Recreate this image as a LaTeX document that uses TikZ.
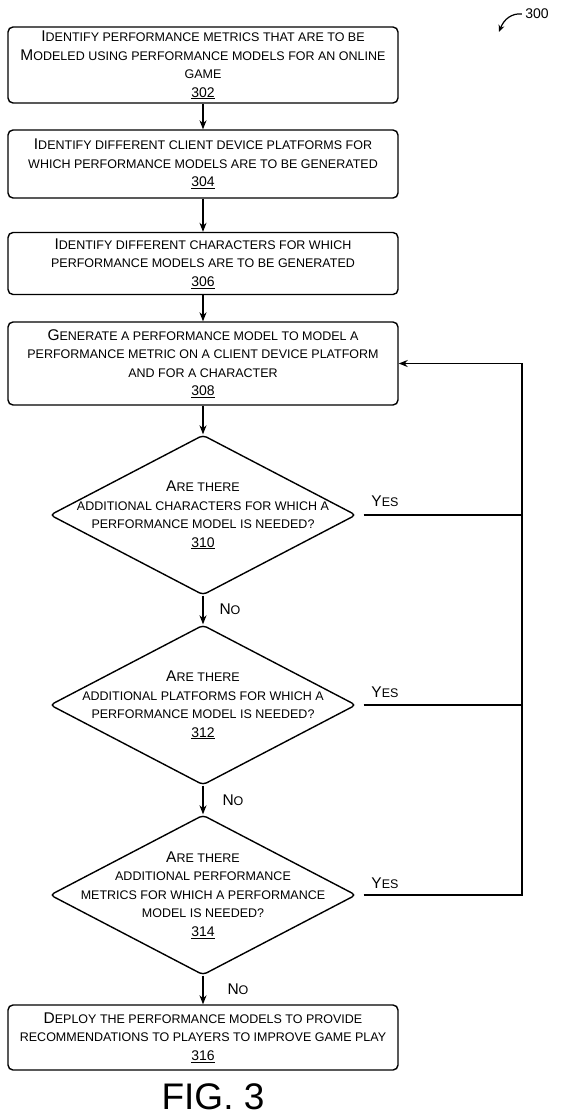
\documentclass[tikz,border=0pt]{standalone}
\usepackage{fontspec}
\setmainfont{Liberation Sans}
\usetikzlibrary{positioning,shapes.geometric,arrows.meta}

\newcommand{\pc}[1]{{\fontsize{12.5}{18.5}\selectfont #1}}
\newcommand{\num}[1]{{\fontsize{14}{18.5}\selectfont\underline{#1}}}

\begin{document}
\begin{tikzpicture}[x=1pt,y=-1pt]
\tikzstyle{caja} = [draw, rounded corners=5pt, line width=1.4pt, minimum width=390pt, align=center, inner sep=2pt, font=\fontsize{15.5}{18.5}\selectfont]
\tikzstyle{rombo} = [draw, diamond, line width=1.4pt, minimum width=306pt, minimum height=160pt, inner sep=0pt, rounded corners=4pt]
\tikzstyle{texto} = [align=center, font=\fontsize{15.5}{18.5}\selectfont]
\tikzstyle{flecha} = [-{Stealth[length=9pt,width=7pt]}, line width=1.2pt]

\useasboundingbox (0,0) rectangle (560,1118);

\node[caja, minimum height=76pt] (b302) at (203,65) {I\pc{DENTIFY PERFORMANCE METRICS THAT ARE TO BE}\\M\pc{ODELED USING PERFORMANCE MODELS FOR AN ONLINE}\\\pc{GAME}\\\num{302}};
\node[caja, minimum height=68pt] (b304) at (203,164) {I\pc{DENTIFY DIFFERENT CLIENT DEVICE PLATFORMS FOR}\\\pc{WHICH PERFORMANCE MODELS ARE TO BE GENERATED}\\\num{304}};
\node[caja, minimum height=62pt] (b306) at (203,263.5) {I\pc{DENTIFY DIFFERENT CHARACTERS FOR WHICH}\\\pc{PERFORMANCE MODELS ARE TO BE GENERATED}\\\num{306}};
\node[caja, minimum height=83pt] (b308) at (203,363.5) {G\pc{ENERATE A PERFORMANCE MODEL TO MODEL A}\\\pc{PERFORMANCE METRIC ON A CLIENT DEVICE PLATFORM}\\\pc{AND FOR A CHARACTER}\\\num{308}};

\node[rombo] (d310) at (203,515) {};
\node[texto] (t310) at (d310) {A\pc{RE THERE}\\\pc{ADDITIONAL CHARACTERS FOR WHICH A}\\\pc{PERFORMANCE MODEL IS NEEDED?}\\\num{310}};
\node[rombo] (d312) at (203,705) {};
\node[texto] (t312) at (d312) {A\pc{RE THERE}\\\pc{ADDITIONAL PLATFORMS FOR WHICH A}\\\pc{PERFORMANCE MODEL IS NEEDED?}\\\num{312}};
\node[rombo] (d314) at (203,895) {};
\node[texto] (t314) at (d314) {A\pc{RE THERE}\\\pc{ADDITIONAL PERFORMANCE}\\\pc{METRICS FOR WHICH A PERFORMANCE}\\\pc{MODEL IS NEEDED?}\\\num{314}};

\node[caja, minimum height=65pt] (b316) at (203,1037.5) {D\pc{EPLOY THE PERFORMANCE MODELS TO PROVIDE}\\\pc{RECOMMENDATIONS TO PLAYERS TO IMPROVE GAME PLAY}\\\num{316}};

\node[font=\fontsize{37}{40}\selectfont] (fig) at (213,1097) {FIG. 3};

% etiquetas de las ramas
\node[texto] (si310) at (385,501) {Y\pc{ES}};
\node[texto] (si312) at (385,692) {Y\pc{ES}};
\node[texto] (si314) at (385,883) {Y\pc{ES}};
\node[texto, anchor=west] (no310) at (216,609) {N\pc{O}};
\node[texto, anchor=west] (no312) at (219,800) {N\pc{O}};
\node[texto, anchor=west] (no314) at (224,989) {N\pc{O}};

\draw[flecha] (b302) -- (b304);
\draw[flecha] (b304) -- (b306);
\draw[flecha] (b306) -- (b308);
\draw[flecha] (b308) -- (d310);
\draw[flecha] (d310) -- (d312);
\draw[flecha] (d312) -- (d314);
\draw[flecha] (d314) -- (b316);

% vuelta a 308
\coordinate (r) at (522,363.5);
\draw[line width=1.2pt, shorten <=7pt] (d310.east) -- (d310.east -| r);
\draw[line width=1.2pt, shorten <=7pt] (d312.east) -- (d312.east -| r);
\draw[flecha, shorten <=7pt] (d314.east) -| (r) -- (b308.east);

\node[font=\fontsize{14}{16}\selectfont] (n300) at (537,14) {300};
\coordinate (p300) at (499,32);
\draw[-{Stealth[length=7pt,width=6pt]}, line width=1.2pt] (n300.west) .. controls (512,13) and (504,19) .. (p300);
\end{tikzpicture}
\end{document}
